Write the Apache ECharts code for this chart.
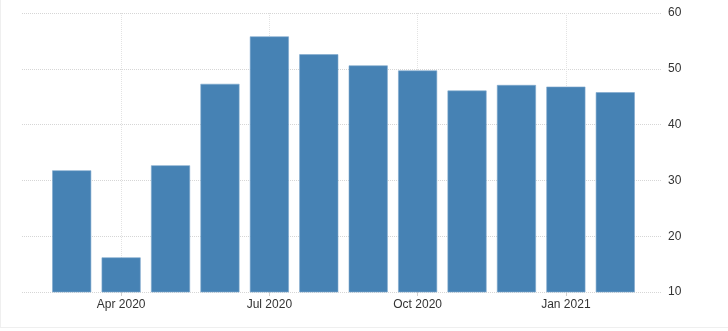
<!DOCTYPE html>
<html>
<head>
<meta charset="utf-8">
<script src="https://cdn.jsdelivr.net/npm/echarts@6/dist/echarts.min.js"></script>
<style>html,body{margin:0;padding:0;background:#fff;}#c{width:728px;height:331px;}</style>
</head>
<body>
<div id="c"></div>
<script>
const months = ['Mar 2020','Apr 2020','May 2020','Jun 2020','Jul 2020','Aug 2020','Sep 2020','Oct 2020','Nov 2020','Dec 2020','Jan 2021','Feb 2021'];
const values = [31.8, 16.2, 32.7, 47.3, 55.8, 52.6, 50.6, 49.7, 46.1, 47.1, 46.8, 45.8];
const yTicks = [10, 20, 30, 40, 50, 60];

const labelShown = (i) => (i - 1) % 3 === 0;
const chart = echarts.init(document.getElementById('c'));
chart.setOption({
  animation: false,
  backgroundColor: '#fff',
  graphic: [
    {type: 'line', silent: true, shape: {x1: 0.5, y1: 0, x2: 0.5, y2: 327}, style: {stroke: '#efefef', lineWidth: 1}},
    {type: 'line', silent: true, shape: {x1: 0, y1: 327.5, x2: 728, y2: 327.5}, style: {stroke: '#efefef', lineWidth: 1}}
  ],
  grid: [
    {left: 22, right: 66, top: 13, bottom: 39},
    {left: 47, right: 88, top: 13, bottom: 39}
  ],
  xAxis: [
    {gridIndex: 0, type: 'value', min: 0, max: 1, show: false},
    {gridIndex: 1, type: 'category', data: months,
      axisLine: {show: false},
      axisTick: {show: true, alignWithLabel: true, interval: labelShown, length: 4, lineStyle: {color: '#cfcfcf'}},
      axisLabel: {interval: labelShown, color: '#333', fontFamily: 'Liberation Sans', fontSize: 12, margin: 7},
      splitLine: {show: true, alignWithLabel: true, interval: labelShown, lineStyle: {color: '#e3e3e3', type: 'dotted', width: 1}}
    }
  ],
  yAxis: [
    {gridIndex: 0, type: 'value', position: 'right', min: yTicks[0], max: yTicks[yTicks.length-1], interval: 10,
      axisLine: {show: false}, axisTick: {show: false},
      axisLabel: {color: '#333', fontFamily: 'Liberation Sans', fontSize: 12, margin: 6},
      splitLine: {lineStyle: {color: '#d6d6d6', type: 'dotted', width: 1}}
    },
    {gridIndex: 1, type: 'value', min: yTicks[0], max: yTicks[yTicks.length-1], show: false, splitLine: {show: false}}
  ],
  series: [{
    type: 'bar', xAxisIndex: 1, yAxisIndex: 1,
    data: values,
    barWidth: 39,
    itemStyle: {color: '#4682b4', borderColor: '#7ea8cc', borderWidth: 0.6}
  }]
});
</script>
</body>
</html>
